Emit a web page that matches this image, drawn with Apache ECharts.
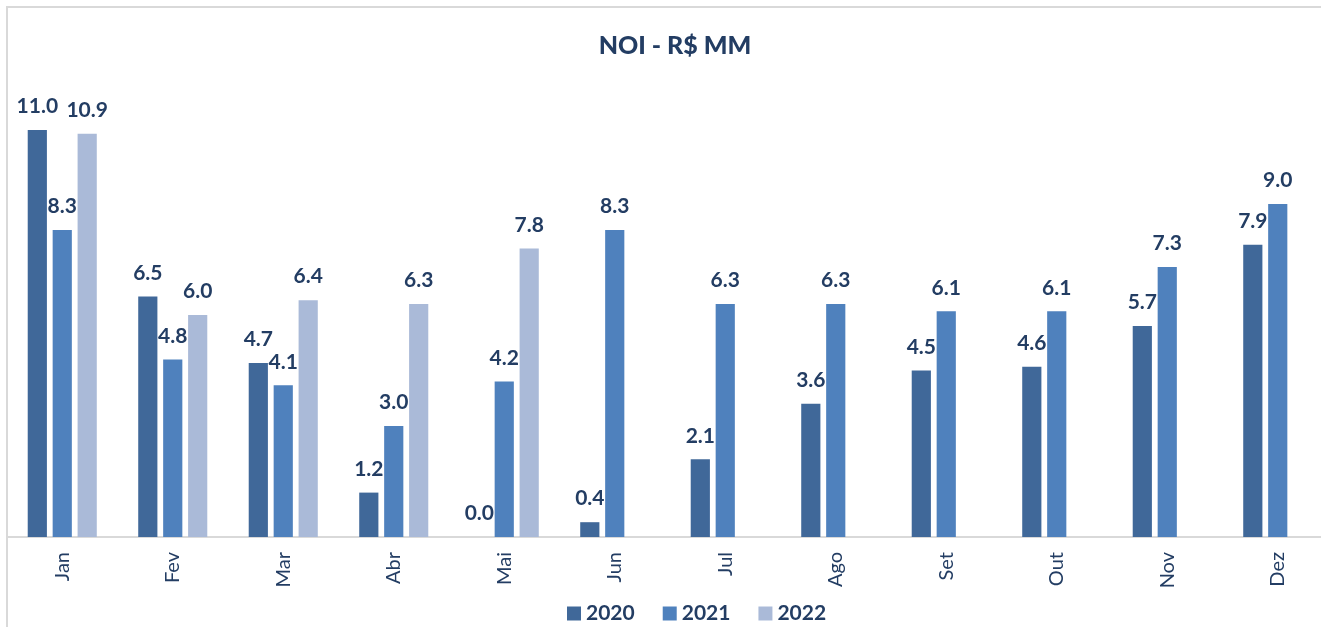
<!DOCTYPE html>
<html>
<head>
<meta charset="utf-8">
<script src="https://cdn.jsdelivr.net/npm/echarts@6/dist/echarts.min.js"></script>
<style>
html,body{margin:0;padding:0;background:#fff;overflow:hidden;}
#c{width:1340px;height:627px;}
</style>
</head>
<body>
<div id="c"></div>
<script>
const months = ['Jan','Fev','Mar','Abr','Mai','Jun','Jul','Ago','Set','Out','Nov','Dez'];
const s2020 = [11.0, 6.5, 4.7, 1.2, 0.0, 0.4, 2.1, 3.6, 4.5, 4.6, 5.7, 7.9];
const s2021 = [8.3, 4.8, 4.1, 3.0, 4.2, 8.3, 6.3, 6.3, 6.1, 6.1, 7.3, 9.0];
const s2022 = [10.9, 6.0, 6.4, 6.3, 7.8, null, null, null, null, null, null, null];
const seriesNames = ['2020','2021','2022'];
const colors = ['#406899','#4F81BD','#AABAD8'];
const navy = '#233D63';
const FONT = 'Lato';

const chart = echarts.init(document.getElementById('c'));
const mk = (name, data, color) => ({
  name: name,
  type: 'bar',
  data: data,
  itemStyle: {color: color},
  barGap: '30%',
  barCategoryGap: '37.5%',
  label: {
    show: true,
    position: 'top',
    distance: 13,
    formatter: p => (p.value == null ? '' : Number(p.value).toFixed(1)),
    color: navy,
    fontFamily: FONT,
    fontWeight: 'bold',
    fontSize: 21
  }
});
chart.setOption({
  animation: false,
  backgroundColor: '#fff',
  title: {
    text: 'NOI - R$ MM',
    left: 670,
    textAlign: 'center',
    top: 28,
    textStyle: {color: navy, fontFamily: FONT, fontWeight: 900, fontSize: 25}
  },
  legend: {
    data: seriesNames,
    left: 567,
    top: 603,
    padding: 0,
    itemWidth: 14,
    itemHeight: 14,
    itemGap: 28,
    icon: 'rect',
    textStyle: {color: navy, fontFamily: FONT, fontWeight: 'bold', fontSize: 21}
  },
  grid: {left: 7, top: 93, height: 444, width: 1326, containLabel: false},
  xAxis: {
    type: 'category',
    data: months,
    axisLine: {lineStyle: {color: '#D9D9D9', width: 2}},
    axisTick: {show: false},
    axisLabel: {rotate: 90, margin: 15, color: navy, fontFamily: FONT, fontSize: 20}
  },
  yAxis: {
    type: 'value', min: 0, max: 12, show: false, splitLine: {show: false}
  },
  graphic: [{
    type: 'rect',
    shape: {x: 7, y: 7, width: 1400, height: 700},
    style: {fill: 'none', stroke: '#D9D9D9', lineWidth: 2},
    silent: true, z: -1
  }],
  series: [mk(seriesNames[0], s2020, colors[0]), mk(seriesNames[1], s2021, colors[1]), mk(seriesNames[2], s2022, colors[2])]
});
</script>
</body>
</html>
